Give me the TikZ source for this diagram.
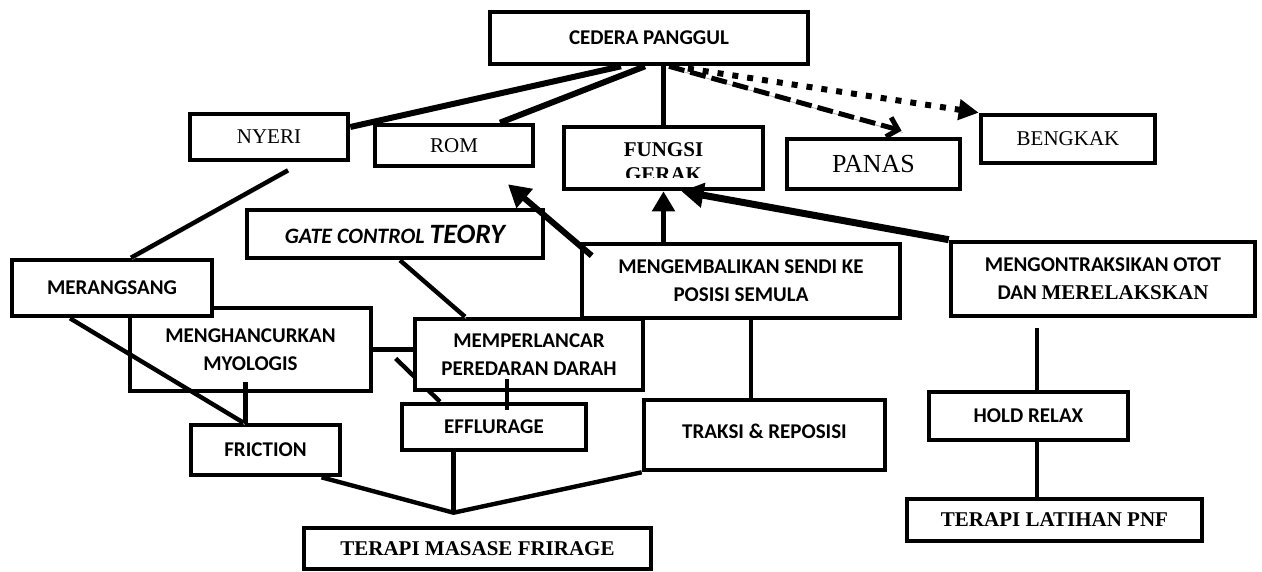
\documentclass[tikz,border=0pt]{standalone}
\usepackage{fontspec}
\setmainfont{Liberation Serif}
\newfontfamily\calibri{Carlito}
\usetikzlibrary{arrows.meta,positioning,backgrounds}

\begin{document}
\begin{tikzpicture}[x=0.5pt,y=-0.5pt,
  box/.style={rectangle, draw=black, line width=2.3pt, fill=white, inner sep=0pt, align=center,
    font=\calibri\bfseries\fontsize{10.5}{14}\selectfont},
  tbox/.style={box, font=\rmfamily\fontsize{10.5}{14}\selectfont},
  tboxbf/.style={box, font=\rmfamily\bfseries\fontsize{10.5}{14}\selectfont},
  sz/.style 2 args={minimum width=#1*0.5pt, minimum height=#2*0.5pt},
  link/.style={line width=2.2pt},
  fat/.style={line width=3pt},
  shadow/.style={preaction={draw=black!30, arrows=-, transform canvas={shift={(0.6pt,-0.9pt)}}}}
]
  \useasboundingbox (0,0) rectangle (1262,572);

  \node (cedera) [box, sz={318}{52}] at (649,38) {CEDERA PANGGUL};
  \node (nyeri) [tbox, sz={158}{46}] at (269,137) {NYERI};
  \node (rom) [tbox, sz={158}{41}] at (454,145.5) {ROM};
  \node (fungsi) [box, sz={199}{62}, path picture={
      \clip (path picture bounding box.north west) rectangle ([yshift=5.5pt]path picture bounding box.south east);
      \node (fungsitxt) [align=center, font=\rmfamily\bfseries\fontsize{10.5}{12.5}\selectfont]
        at ([yshift=-17.5pt]path picture bounding box.north) {FUNGSI\\GERAK};
    }] at (663.5,158) {};
  \node (panas) [tbox, sz={173}{50}, font=\rmfamily\fontsize{13}{16}\selectfont] at (873.5,164) {PANAS};
  \node (bengkak) [tbox, sz={174}{48}] at (1068,139) {BENGKAK};

  \node (gate) [box, sz={296}{48}, font=\calibri\bfseries\itshape\fontsize{11}{14}\selectfont] at (395,234)
    {\raisebox{-2pt}{GATE CONTROL {\fontsize{14}{16}\selectfont TEORY}}};
  \node (mengh) [box, sz={241}{83}] at (250.5,349.5) {MENGHANCURKAN\\MYOLOGIS};
  \node (merangsang) [box, sz={200}{56}] at (112,288) {MERANGSANG};
  \node (mengemb) [box, sz={318}{74}] at (741,281) {MENGEMBALIKAN SENDI KE\\POSISI SEMULA};
  \node (mempl) [box, sz={228}{71}] at (529,354.5) {\raisebox{-2pt}{MEMPERLANCAR}\\\raisebox{-2pt}{PEREDARAN DARAH}};
  \node (mengon) [box, sz={304}{74}] at (1103,279) {MENGONTRAKSIKAN OTOT\\DAN {\rmfamily MERELAKSKAN}};

  \node (efflurage) [box, sz={184}{46}] at (494,427) {EFFLURAGE};
  \node (friction) [box, sz={149}{50}] at (265.5,450) {FRICTION};
  \node (traksi) [box, sz={241}{70}] at (764.5,435) {\raisebox{4pt}{TRAKSI \& REPOSISI}};
  \node (hold) [box, sz={199}{48}] at (1028.5,416) {HOLD RELAX};
  \node (pnf) [tboxbf, sz={295}{42}] at (1054.5,520) {TERAPI LATIHAN PNF};
  \node (masase) [tboxbf, sz={347}{41}] at (477.5,548.5) {TERAPI MASASE FRIRAGE};

  \begin{scope}[on background layer]
    \draw [link, shadow] ([xshift=-8.5pt,yshift=-2pt]mempl.west) -- ([xshift=-27pt]efflurage.north);
  \end{scope}

  \draw [fat] ([xshift=-14pt]cedera.south) -- ([yshift=5pt]nyeri.east);
  \draw [fat] ([xshift=-2pt]cedera.south) -- ([xshift=23pt]rom.north);
  \draw [link] (cedera.south -| fungsi.north) -- (fungsi.north);
  \draw [line width=2.5pt, dash pattern=on 8pt off 3pt, shadow, -{Straight Barb[length=5pt,width=10pt]}]
    ([xshift=10pt]cedera.south) -- ([xshift=14pt,yshift=3pt]panas.north);
  \draw [line width=3pt, dash pattern=on 3pt off 4.5pt, -{Triangle[length=10pt,width=10pt]}]
    ([xshift=12pt]cedera.south) -- (bengkak.north west);

  \draw [fat, -{Triangle[length=11pt,width=12pt]}] ([xshift=6pt,yshift=-7pt]mengemb.north west) -- ([xshift=27pt,yshift=-8pt]rom.south);
  \draw [line width=2.6pt, -{Triangle[length=10pt,width=11pt]}] (mengemb.north -| fungsi.south) -- (fungsi.south);
  \draw [line width=3.5pt, -{Triangle[length=11pt,width=12pt]}] (mengon.north west) -- ([xshift=9pt]fungsi.south);

  \draw [link, shadow] ([xshift=9.5pt,yshift=-4pt]nyeri.south) -- ([xshift=9.5pt]merangsang.north);
  \draw [link, shadow] ([xshift=2.5pt]gate.south) -- ([xshift=-32pt]mempl.north);
  \draw [link, shadow] ([xshift=-21pt]merangsang.south) -- ([xshift=-11pt]friction.north);
  \draw [link] (mengh.east) -- (mengh.east -| mempl.west);
  \draw [link] ([xshift=-2.5pt,yshift=5.5pt]mengh.south) coordinate (m1) -- (m1 |- friction.north);
  \draw [link] ([xshift=-11pt,yshift=6.5pt]mempl.south) coordinate (m2) -- ([yshift=-4pt]m2 |- efflurage.north);
  \draw [link] ([xshift=5pt]mengemb.south) coordinate (m3) -- (m3 |- traksi.north);
  \draw [link] ([xshift=4.25pt]hold.north) coordinate (h1) -- ([yshift=-5pt]h1 |- mengon.south);
  \draw [link] ([xshift=4.25pt]hold.south) coordinate (h2) -- (h2 |- pnf.north);

  \coordinate (jn) at ([xshift=-12pt,yshift=6.5pt]masase.north);
  \draw [link, line join=miter] ([xshift=28pt]friction.south) -- (jn) -- (traksi.south west);
  \draw [link] (jn |- efflurage.south) -- (jn);
\end{tikzpicture}
\end{document}
